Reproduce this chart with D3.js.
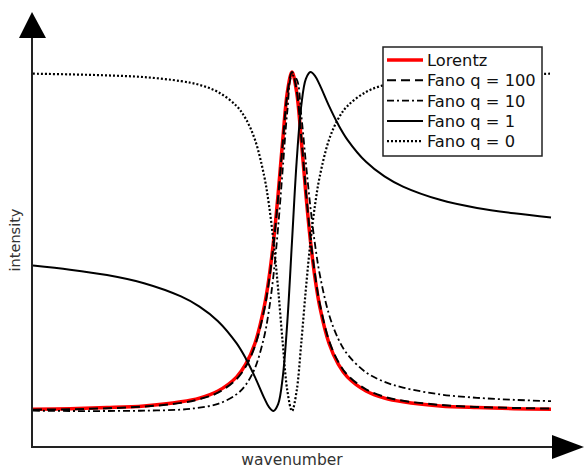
<!DOCTYPE html>
<html>
<head>
<meta charset="utf-8">
<script src="https://cdn.jsdelivr.net/npm/d3@7"></script>
<style>
  body { margin: 0; background: #fff; }
  svg { display: block; }
</style>
</head>
<body>
<svg></svg>
<script>
const width = 585, height = 468;
const svg = d3.select("svg").attr("width", width).attr("height", height);

// Wavenumber samples (relative to the resonance, in line widths)
const wavenumber = [-14, -12, -10, -8, -6, -5, -4, -3, -2.5, -2, -1.5, -1.25, -1, -0.75, -0.5, -0.25, 0,
                    0.25, 0.5, 0.75, 1, 1.25, 1.5, 2, 2.5, 3, 4, 5, 6, 8, 10, 12, 14];

// Normalised intensities
const lorentz = [0.005, 0.007, 0.010, 0.015, 0.027, 0.038, 0.059, 0.100, 0.138, 0.200, 0.308, 0.390, 0.500, 0.640, 0.800, 0.941, 1.000,
                 0.941, 0.800, 0.640, 0.500, 0.390, 0.308, 0.200, 0.138, 0.100, 0.059, 0.038, 0.027, 0.015, 0.010, 0.007, 0.005];
const fano100 = [0.004, 0.005, 0.008, 0.013, 0.024, 0.035, 0.054, 0.094, 0.131, 0.192, 0.299, 0.381, 0.490, 0.630, 0.792, 0.936, 1.000,
                 0.946, 0.808, 0.650, 0.510, 0.400, 0.317, 0.208, 0.145, 0.106, 0.064, 0.042, 0.030, 0.018, 0.012, 0.009, 0.007];
const fano10 = [0.001, 0.000, 0.000, 0.001, 0.004, 0.010, 0.021, 0.049, 0.077, 0.127, 0.220, 0.296, 0.401, 0.542, 0.715, 0.886, 0.990,
                0.979, 0.873, 0.732, 0.599, 0.489, 0.403, 0.285, 0.213, 0.167, 0.114, 0.086, 0.069, 0.049, 0.039, 0.033, 0.029];
const fano1 = [0.429, 0.417, 0.401, 0.377, 0.338, 0.308, 0.265, 0.200, 0.155, 0.100, 0.038, 0.012, 0.000, 0.020, 0.100, 0.265, 0.500,
               0.735, 0.900, 0.980, 1.000, 0.988, 0.962, 0.900, 0.845, 0.800, 0.735, 0.692, 0.662, 0.623, 0.599, 0.583, 0.571];
const fano0 = [0.995, 0.993, 0.990, 0.985, 0.973, 0.962, 0.941, 0.900, 0.862, 0.800, 0.692, 0.610, 0.500, 0.360, 0.200, 0.059, 0.000,
               0.059, 0.200, 0.360, 0.500, 0.610, 0.692, 0.800, 0.862, 0.900, 0.941, 0.962, 0.973, 0.985, 0.990, 0.993, 0.995];

const seriesNames = ["Lorentz", "Fano q = 100", "Fano q = 10", "Fano q = 1", "Fano q = 0"];
const seriesValues = [lorentz, fano100, fano10, fano1, fano0];

// line styles per series
const styles = [
    { color: "#ff0000", width: 3.5, dash: null },
    { color: "#000", width: 2, dash: "9,5" },
    { color: "#000", width: 1.8, dash: "7,3,2,3" },
    { color: "#000", width: 2, dash: null },
    { color: "#000", width: 2.2, dash: "2,2" }
];

const x = d3.scaleLinear().domain([-14, 14]).range([33, 551]);
const y = d3.scaleLinear().domain([0, 1]).range([411, 72]);

const line = d3.line()
    .x(d => x(d[0]))
    .y(d => y(d[1]))
    .curve(d3.curveCatmullRom.alpha(0.5));

// Curves
seriesValues.forEach((vals, i) => {
    const pts = wavenumber.map((w, j) => [w, vals[j]]);
    svg.append("path")
        .datum(pts)
        .attr("d", line)
        .attr("fill", "none")
        .attr("stroke", styles[i].color)
        .attr("stroke-width", styles[i].width)
        .attr("stroke-dasharray", styles[i].dash)
        .attr("stroke-linejoin", "round");
});

// Axes with arrow heads
const axisColor = "#222";
svg.append("line")
    .attr("x1", 32).attr("y1", 447).attr("x2", 32).attr("y2", 36)
    .attr("stroke", axisColor).attr("stroke-width", 2);
svg.append("line")
    .attr("x1", 31).attr("y1", 447).attr("x2", 556).attr("y2", 447)
    .attr("stroke", axisColor).attr("stroke-width", 2);
svg.append("path")
    .attr("d", "M32,12 L19,38 L46,38 Z")
    .attr("fill", "#000");
svg.append("path")
    .attr("d", "M584,447 L552,435 L552,459 Z")
    .attr("fill", "#000");

// Axis labels
svg.append("text")
    .attr("x", 292).attr("y", 465)
    .attr("text-anchor", "middle")
    .attr("font-family", "DejaVu Sans")
    .attr("font-size", 15.5)
    .attr("fill", "#333")
    .text("wavenumber");
svg.append("text")
    .attr("transform", "translate(20,240) rotate(-90)")
    .attr("text-anchor", "middle")
    .attr("font-family", "DejaVu Sans")
    .attr("font-size", 14.5)
    .attr("fill", "#333")
    .text("intensity");

// Legend
const legend = svg.append("g");
legend.append("rect")
    .attr("x", 383).attr("y", 47).attr("width", 159).attr("height", 109)
    .attr("fill", "#fff")
    .attr("stroke", "#222").attr("stroke-width", 1.5);

seriesNames.forEach((name, i) => {
    const ly = 60 + i * 20.3;
    legend.append("line")
        .attr("x1", 387).attr("x2", 423)
        .attr("y1", ly).attr("y2", ly)
        .attr("stroke", styles[i].color)
        .attr("stroke-width", styles[i].width)
        .attr("stroke-dasharray", styles[i].dash);
    legend.append("text")
        .attr("x", 427).attr("y", ly + 6)
        .attr("font-family", "DejaVu Sans")
        .attr("font-size", 16.3)
        .attr("fill", "#111")
        .text(name);
});
</script>
</body>
</html>
